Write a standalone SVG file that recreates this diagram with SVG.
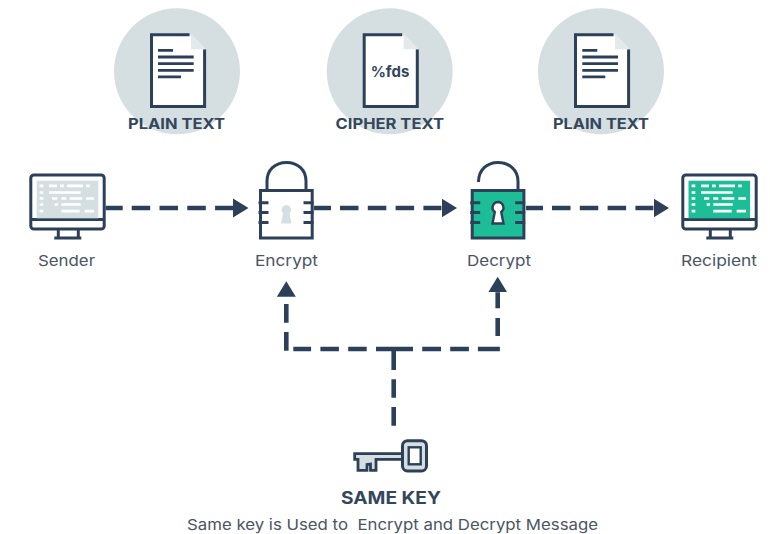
<svg xmlns="http://www.w3.org/2000/svg" width="770" height="534" viewBox="0 0 770 534">
<style>
text{font-family:"Inter","Open Sans","Liberation Sans",sans-serif;text-anchor:middle;white-space:pre}
.t{font-size:15px;font-weight:700;fill:#34465c}
.l{font-size:15px;font-weight:400;fill:#4a5563}
.s{fill:none;stroke:#2d405a;stroke-width:3}
.d{fill:none;stroke:#2d405a;stroke-width:4.6}
.bg{fill:#d5dfe2}
.g{fill:#1dbd98}
</style>
<defs>
<marker id="head" markerUnits="userSpaceOnUse" markerWidth="16" markerHeight="20" refX="0" refY="10" orient="auto"><path d="M0 .5L15.500 10L0 19.500z" fill="#2d405a"/></marker>
<g id="doc">
<circle cx="27" cy="38" r="63" class="bg"/>
<path d="M39.500 1.500H1.500V73.300H54.600V16" fill="#fff" stroke="#2d405a" stroke-width="3"/>
<path d="M41 0L56 16H41z" fill="#e4eaec"/>
</g>
<g id="lines"><path d="M8 17h15M8 23.700h35.700M8 30.300h35.700M8 37h35.700M8 43.500h23" fill="none" stroke="#2d405a" stroke-width="2.800"/></g>
<g id="lockbase">
<path d="M0 13.500h10M0 23.200h10M0 33.200h10M45 13.500h10M45 23.200h10M45 33.200h10" fill="none" stroke="#2d405a" stroke-width="3"/>
</g>
<g id="mon">
<rect x="1.500" y="1.500" width="73.400" height="54" rx="3" fill="#fff" stroke="#2d405a" stroke-width="3"/>
<path d="M1.500 46H75M29 56V64M49 56V64M25 64.500H52" fill="none" stroke="#2d405a" stroke-width="3"/>
</g>
<path id="scr" d="M10.300 12.400H14M19.700 12.400H27.700M30.700 12.400H34.400M37.700 12.400H53.700M57 12.400H60.400M10.300 19H14M19.700 19H51.400M10.300 25H14M22.700 25H28M32 25H37M40.400 25H53M57 25H64.700M10.300 31H14M25.400 31H28.700M32 31H51.400M10.300 37.600H14M32 37.600H50.400M55.400 37.600H64.700" fill="none" stroke="#fff" stroke-width="2.600"/>
</defs>

<g id="connectors">
<path class="d" d="M105.700 208H233" stroke-dasharray="17 9 18.500 9.300 18.500 9.300 18.500 9.300 18" marker-end="url(#head)"/>
<path class="d" d="M314 208H441.500" stroke-dasharray="17 9 18.500 9.300 18.500 9.300 18.500 9.300 18" marker-end="url(#head)"/>
<path class="d" d="M526 208H653.500" stroke-dasharray="17 9 18.500 9.300 18.500 9.300 18.500 9.300 18" marker-end="url(#head)"/>
<path class="d" d="M394 349H293.300" stroke-dasharray="18 9.300 18.500 9.300 18.500 9.300 18.400"/>
<path class="d" d="M286.300 350.700V296.700" stroke-dasharray="18.700 9.300 18.700 7.300" marker-end="url(#head)"/>
<path class="d" d="M394 349H500" stroke-dasharray="19 9.200 18.800 9.200 18.700 9 22"/>
<path class="d" d="M497.700 336V292.300" stroke-dasharray="18 9.700 16" marker-end="url(#head)"/>
<path class="d" d="M393.700 349V425.700" stroke-dasharray="21 9.300 18.400 9.300 18.700"/>
</g>

<g id="plain-text-1">
<use href="#doc" x="150" y="33.300"/><use href="#lines" x="150" y="33.300"/>
<text class="t" x="176.500" y="129" textLength="97" lengthAdjust="spacingAndGlyphs">PLAIN TEXT</text>
</g>
<g id="cipher-text">
<use href="#doc" x="362.700" y="33.300"/>
<text x="390" y="76.500" font-size="15" font-weight="700" fill="#34465c" textLength="38.600" lengthAdjust="spacingAndGlyphs">%fds</text>
<text class="t" x="389.800" y="129" textLength="108.500" lengthAdjust="spacingAndGlyphs">CIPHER TEXT</text>
</g>
<g id="plain-text-2">
<use href="#doc" x="574" y="33.300"/><use href="#lines" x="574.300" y="33.300"/>
<text class="t" x="601" y="129" textLength="96" lengthAdjust="spacingAndGlyphs">PLAIN TEXT</text>
</g>

<g id="sender">
<use href="#mon" x="29.300" y="173.500"/>
<rect x="36.700" y="180.700" width="61.600" height="37.600" class="bg"/>
<use href="#scr" x="29.300" y="173.500"/>
<text class="l" x="66.500" y="266" textLength="57" lengthAdjust="spacingAndGlyphs">Sender</text>
</g>
<g id="encrypt">
<path class="s" d="M267 189V181C267 170 275 162.400 286.500 162.400S306 170 306 181V189"/>
<rect x="260.500" y="190.500" width="51.700" height="47.500" fill="#fff" stroke="#2d405a" stroke-width="3"/>
<use href="#lockbase" x="258.500" y="189.200"/>
<path d="M286 205a5 5 0 0 1 3.500 8.500L291.500 223.500H281L283 213.500A5 5 0 0 1 286 205z" class="bg"/>
<text class="l" x="286.500" y="266" textLength="63" lengthAdjust="spacingAndGlyphs">Encrypt</text>
</g>
<g id="decrypt">
<path class="s" d="M478.500 182C478.500 170 487 162.400 498 162.400S518 170 518 181V189"/>
<rect x="472.200" y="190.500" width="51.700" height="47.500" class="g" stroke="#2d405a" stroke-width="3"/>
<use href="#lockbase" x="470.200" y="189.200"/>
<path d="M498 202a5.500 5.500 0 0 1 3.200 9.900L503.500 223.500H492.500L494.800 211.900A5.500 5.500 0 0 1 498 202z" fill="#fff" stroke="#2d405a" stroke-width="2.400"/>
<text class="l" x="499" y="266" textLength="64" lengthAdjust="spacingAndGlyphs">Decrypt</text>
</g>
<g id="recipient">
<use href="#mon" x="681.300" y="173.500"/>
<rect x="688.500" y="180.700" width="61.600" height="37.600" class="g"/>
<use href="#scr" x="681.300" y="173.500"/>
<text class="l" x="719" y="266" textLength="76" lengthAdjust="spacingAndGlyphs">Recipient</text>
</g>
<g id="same-key">
<path d="M354.700 453.700H402.500V459.400H376V470.400H370.500V464L367 464.500V470.400H358V459.400H354.700z" class="bg" stroke="#2d405a" stroke-width="2.800"/>
<rect x="402.500" y="440.700" width="24" height="30.300" rx="5" class="bg" stroke="#2d405a" stroke-width="3"/>
<rect x="408.700" y="447.300" width="12" height="17" fill="#fff" stroke="#2d405a" stroke-width="2.400"/>
<text x="391" y="504" font-size="17" font-weight="700" fill="#34465c" textLength="100" lengthAdjust="spacingAndGlyphs">SAME KEY</text>
<text class="l" x="392.500" y="530" textLength="411" lengthAdjust="spacingAndGlyphs">Same key is Used to  Encrypt and Decrypt Message</text>
</g>
</svg>
